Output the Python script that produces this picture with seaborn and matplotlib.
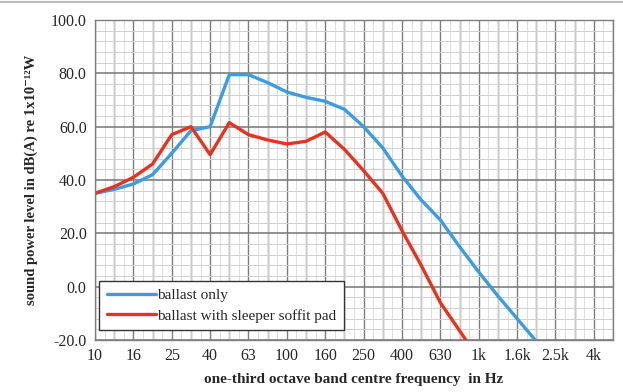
import numpy as np
import pandas as pd
import matplotlib
matplotlib.use("Agg")
import matplotlib.pyplot as plt
import seaborn as sns
from matplotlib.ticker import MultipleLocator, FixedLocator

# one-third octave bands 10 Hz .. 5 kHz
bands = ["10", "12.5", "16", "20", "25", "31.5", "40", "50", "63", "80",
         "100", "125", "160", "200", "250", "315", "400", "500", "630", "800",
         "1k", "1.25k", "1.6k", "2k", "2.5k", "3.15k", "4k", "5k"]
tick_labels = ["10", "16", "25", "40", "63", "100", "160", "250", "400",
               "630", "1k", "1.6k", "2.5k", "4k"]

ballast_only = [35, 36.5, 38.5, 42, 50, 58.5, 60, 79.5, 79.5, 76.5, 73, 71,
                69.5, 66.5, 60, 52, 41.5, 32.5, 25, 15, 5.5, -3.5, -12, -20.5]
ballast_pad = [35, 37.5, 41, 46, 57, 60, 49.5, 61.5, 57, 55, 53.5, 54.5,
               58, 51.5, 43.5, 35, 21, 8, -6, -16.5, -27]

df = pd.concat([
    pd.DataFrame({"band": range(len(ballast_only)), "level": ballast_only,
                  "series": "ballast only"}),
    pd.DataFrame({"band": range(len(ballast_pad)), "level": ballast_pad,
                  "series": "ballast with sleeper soffit pad"}),
])

sns.set_style("white")
plt.rcParams["font.family"] = ["Liberation Serif", "DejaVu Serif"]

fig = plt.figure(figsize=(6.23, 3.92), dpi=100)
ax = fig.add_axes([0.1525, 0.1327, 0.8315, 0.8163])

sns.lineplot(data=df, x="band", y="level", hue="series",
             palette=["#3b9de0", "#e8321e"], linewidth=2.4, ax=ax)

ax.set_xlim(0, len(bands) - 1)
ax.set_ylim(-20, 100)
ax.xaxis.set_major_locator(FixedLocator(range(0, len(bands) - 1, 2)))
ax.set_xticklabels(tick_labels)
ax.xaxis.set_minor_locator(MultipleLocator(0.5))
ax.yaxis.set_major_locator(MultipleLocator(20))
ax.yaxis.set_minor_locator(MultipleLocator(4))
ax.set_yticks(np.arange(-20, 101, 20))
ax.set_yticklabels([f"{v:.1f}" for v in np.arange(-20, 101, 20)])

# vertical lines at every band, lighter ones between
for i in range(len(bands)):
    ax.axvline(i, color="#7f7f7f", linewidth=1.0, zorder=0)
ax.grid(which="major", axis="y", color="#7f7f7f", linewidth=1.2, zorder=0)
ax.grid(which="minor", axis="y", color="#d0d0d0", linewidth=0.7, zorder=0)
ax.grid(which="minor", axis="x", color="#d8d8d8", linewidth=0.6, zorder=0)
ax.set_axisbelow(True)
ax.tick_params(which="both", length=0, labelsize=11.5, pad=6)

for s in ax.spines.values():
    s.set_color("#7f7f7f")
    s.set_linewidth(1.0)

ax.set_xlabel("one-third octave band centre frequency  in Hz",
              fontsize=11, fontweight="bold", labelpad=6)
ax.set_ylabel("sound power level in dB(A) re 1x10\u207b\u00b9\u00b2W",
              fontsize=10.5, fontweight="bold", labelpad=9)

leg = ax.legend(loc="lower left", bbox_to_anchor=(0.008, 0.03),
                fontsize=11, frameon=True, fancybox=False,
                handlelength=3.2, handletextpad=0.1, borderpad=0.5,
                labelspacing=0.45, borderaxespad=0)
leg.get_frame().set_edgecolor("#333333")
leg.get_frame().set_linewidth(1.0)
leg.get_frame().set_alpha(1)

fig.add_artist(plt.Line2D([0, 1], [0.995, 0.995], color="#bbbbbb",
                          linewidth=1.5, transform=fig.transFigure))

fig.savefig("out.png", dpi=100)
